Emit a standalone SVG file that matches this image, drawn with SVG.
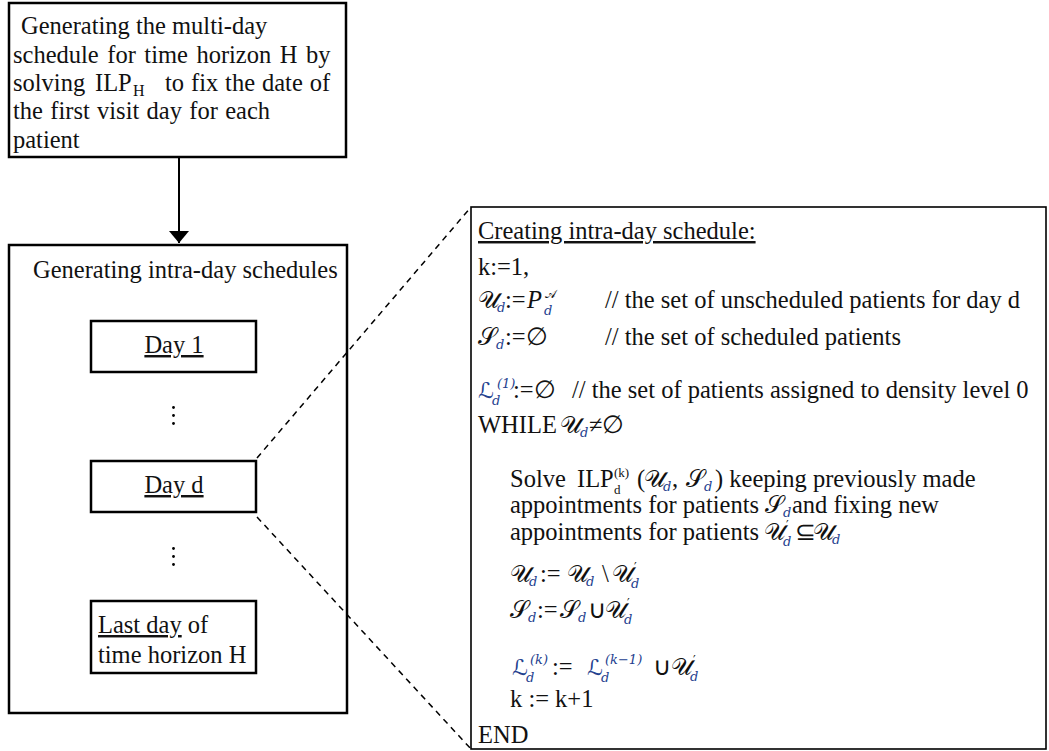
<svg xmlns="http://www.w3.org/2000/svg" width="1049" height="751" viewBox="0 0 1049 751">
<defs>
<style>
.box{fill:#fff;stroke:#000;stroke-width:2.5}
.thin{fill:#fff;stroke:#000;stroke-width:1.6}
.t{font-family:"Liberation Serif","Times New Roman",serif;font-size:24.5px;fill:#111}
.s{font-size:16px}
.ss{font-size:13px}
.mg{font-family:"DejaVu Serif","DejaVu Sans",serif;font-size:24px;fill:#111}
.ml{font-family:"DejaVu Serif","DejaVu Sans",serif;font-size:22px;fill:#23408e}
.md{font-family:"DejaVu Serif","DejaVu Sans",serif;font-size:13px;font-style:italic;fill:#23408e}
.pr{font-family:"DejaVu Serif","DejaVu Sans",serif;font-size:12px;fill:#111}
.ul{text-decoration:underline}
.dash{fill:none;stroke:#000;stroke-width:1.5;stroke-dasharray:6,5}
.dot{fill:#000}
</style>
<marker id="ah" viewBox="0 0 12 20" refX="12" refY="10" markerWidth="12" markerHeight="20" markerUnits="userSpaceOnUse" orient="auto">
<path d="M0,0 L12,10 L0,20 Z" fill="#000"/>
</marker>
</defs>
<rect width="1049" height="751" fill="#fff"/>

<g id="node-multiday">
<rect class="box" x="9" y="3" width="337" height="154"/>
<text class="t" x="21" y="34">Generating the multi-day</text>
<text class="t" x="13" y="63" word-spacing="2.4">schedule for time horizon H by</text>
<text class="t" x="13" y="91">solving<tspan x="95">ILP</tspan><tspan class="s" x="133" y="96">H</tspan><tspan x="165" y="91" word-spacing="0.8">to fix the date of</tspan></text>
<text class="t" x="13" y="119" word-spacing="1.2">the first visit day for each</text>
<text class="t" x="13" y="148">patient</text>
</g>

<g id="node-intraday">
<rect class="box" x="9" y="245" width="338" height="468"/>
<text class="t" x="33" y="278">Generating intra-day schedules</text>
</g>

<g id="node-day1">
<rect class="box" x="91" y="321" width="165" height="51"/>
<text class="t ul" x="174" y="353" text-anchor="middle">Day 1</text>
</g>

<g id="dots-1">
<circle class="dot" cx="173.5" cy="407.5" r="1.4"/>
<circle class="dot" cx="173.5" cy="415.5" r="1.4"/>
<circle class="dot" cx="173.5" cy="423.5" r="1.4"/>
</g>

<g id="node-dayd">
<rect class="box" x="91" y="461" width="165" height="51"/>
<text class="t ul" x="174" y="493" text-anchor="middle">Day d</text>
</g>

<g id="dots-2">
<circle class="dot" cx="173.5" cy="548.5" r="1.4"/>
<circle class="dot" cx="173.5" cy="556.5" r="1.4"/>
<circle class="dot" cx="173.5" cy="564.5" r="1.4"/>
</g>

<g id="node-lastday">
<rect class="box" x="91" y="601" width="165" height="72"/>
<text class="t" x="98" y="633"><tspan class="ul">Last day</tspan> of</text>
<text class="t" x="98" y="663">time horizon H</text>
</g>

<g id="node-detail">
<rect class="thin" x="471" y="207" width="575" height="542"/>
<text class="t ul" x="478" y="239">Creating intra-day schedule:</text>
<text class="t" x="478" y="275">k:=1,</text>

<text class="t" x="478" y="308"><tspan class="mg">𝒰</tspan><tspan class="md" x="497" y="312">d</tspan><tspan x="505" y="308">:=</tspan><tspan x="527" font-style="italic">P</tspan><tspan class="md" x="544" y="315" fill="#111">d</tspan><tspan class="pr" x="545" y="298">𝒜</tspan></text>
<text class="t" x="605" y="308">// the set of unscheduled patients for day d</text>

<text class="t" x="478" y="345"><tspan class="mg">𝒮</tspan><tspan class="md" x="496" y="349">d</tspan><tspan x="505" y="345">:=∅</tspan></text>
<text class="t" x="605" y="345">// the set of scheduled patients</text>

<text class="t" x="478" y="398"><tspan class="ml">ℒ</tspan><tspan class="md" x="492" y="405">d</tspan><tspan class="md" x="497" y="388" font-style="normal">(1)</tspan><tspan x="513" y="398">:=∅</tspan></text>
<text class="t" x="572" y="398">// the set of patients assigned to density level 0</text>

<text class="t" x="478" y="433">WHILE<tspan class="mg" x="560">𝒰</tspan><tspan class="md" x="580" y="437">d</tspan><tspan x="589" y="433">≠∅</tspan></text>

<text class="t" x="510" y="487">Solve<tspan x="577">ILP</tspan><tspan class="ss" x="614" y="494">d</tspan><tspan class="ss" x="614" y="477">(k)</tspan><tspan x="637" y="487">(</tspan><tspan class="mg" x="644">𝒰</tspan><tspan class="md" x="663" y="491">d</tspan><tspan x="672" y="487">,</tspan><tspan class="mg" x="686">𝒮</tspan><tspan class="md" x="704" y="491">d</tspan><tspan x="715" y="487">) keeping previously made</tspan></text>

<text class="t" x="510" y="513">appointments for patients<tspan class="mg" x="765">𝒮</tspan><tspan class="md" x="783" y="517">d</tspan><tspan x="792" y="513">and fixing new</tspan></text>

<text class="t" x="510" y="540">appointments for patients<tspan class="mg" x="764">𝒰</tspan><tspan class="pr" x="786" y="530">′</tspan><tspan class="md" x="783" y="546">d</tspan><tspan x="795" y="540">⊆</tspan><tspan class="mg" x="813">𝒰</tspan><tspan class="md" x="832" y="544">d</tspan></text>

<text class="t" x="510" y="582"><tspan class="mg">𝒰</tspan><tspan class="md" x="529" y="586">d</tspan><tspan x="540" y="582">:=</tspan><tspan class="mg" x="567">𝒰</tspan><tspan class="md" x="586" y="586">d</tspan><tspan x="602" y="582">\</tspan><tspan class="mg" x="612">𝒰</tspan><tspan class="pr" x="634" y="572">′</tspan><tspan class="md" x="631" y="588">d</tspan></text>

<text class="t" x="510" y="618"><tspan class="mg">𝒮</tspan><tspan class="md" x="528" y="622">d</tspan><tspan x="537" y="618">:=</tspan><tspan class="mg" x="560">𝒮</tspan><tspan class="md" x="578" y="622">d</tspan><tspan x="588" y="618">∪</tspan><tspan class="mg" x="605">𝒰</tspan><tspan class="pr" x="627" y="608">′</tspan><tspan class="md" x="624" y="624">d</tspan></text>

<text class="t" x="512" y="675"><tspan class="ml">ℒ</tspan><tspan class="md" x="526" y="682">d</tspan><tspan class="md" x="530" y="664" font-style="normal">(<tspan font-style="italic">k</tspan>)</tspan><tspan x="552" y="675">:=</tspan><tspan class="ml" x="587">ℒ</tspan><tspan class="md" x="601" y="682">d</tspan><tspan class="md" x="605" y="664" font-style="normal">(<tspan font-style="italic">k</tspan>−1)</tspan><tspan x="653" y="675">∪</tspan><tspan class="mg" x="671">𝒰</tspan><tspan class="pr" x="693" y="665">′</tspan><tspan class="md" x="690" y="681">d</tspan></text>

<text class="t" x="510" y="707">k := k+1</text>
<text class="t" x="478" y="743">END</text>
</g>

<g id="connectors">
<line x1="179" y1="157" x2="179" y2="243" stroke="#000" stroke-width="2" marker-end="url(#ah)"/>
<line class="dash" x1="257" y1="458" x2="471" y2="207"/>
<line class="dash" x1="257" y1="517" x2="471" y2="749"/>
</g>
</svg>
